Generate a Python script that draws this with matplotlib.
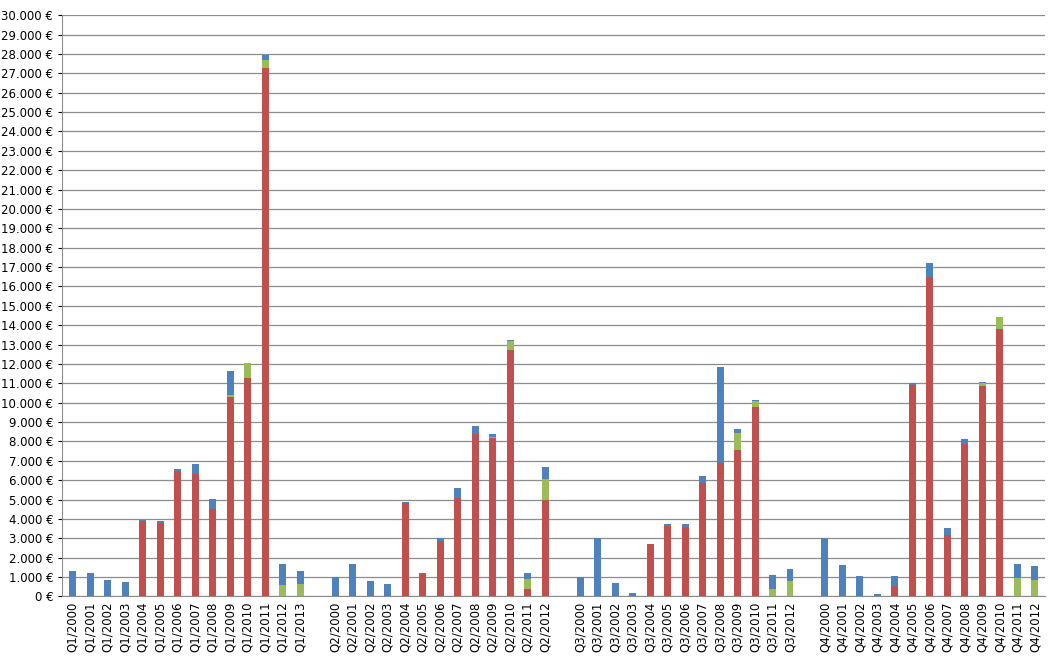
import matplotlib.pyplot as plt
import numpy as np
from matplotlib.ticker import FuncFormatter, MultipleLocator

# --------------------------------------------------
# data (values in EUR)
# --------------------------------------------------
years_q1 = list(range(2000, 2014))
years_q = list(range(2000, 2013))

red_q1 = [0, 0, 0, 0, 3900, 3800, 6500, 6300, 4500, 10300, 11300, 27300, 0, 0]
green_q1 = [0, 0, 0, 0, 0, 0, 0, 0, 0, 100, 750, 400, 600, 650]
blue_q1 = [1300, 1200, 850, 750, 50, 70, 70, 550, 550, 1250, 0, 250, 1050, 650]

red_q2 = [0, 0, 0, 0, 4800, 1150, 2850, 5100, 8400, 8200, 12700, 400, 5000]
green_q2 = [0, 0, 0, 0, 0, 0, 0, 0, 0, 50, 500, 500, 1050]
blue_q2 = [1000, 1650, 800, 650, 100, 50, 150, 480, 380, 120, 50, 300, 650]

red_q3 = [0, 0, 0, 0, 2700, 3650, 3600, 5850, 6900, 7550, 9800, 0, 0]
green_q3 = [0, 0, 0, 0, 0, 0, 0, 0, 0, 900, 300, 400, 800]
blue_q3 = [1000, 3000, 700, 180, -80, 70, 150, 350, 4950, 200, 50, 700, 600]

red_q4 = [0, 0, 0, 0, 550, 10900, 16500, 3150, 7850, 10850, 13800, 0, 0]
green_q4 = [0, 0, 0, 0, 0, 0, 0, 0, 0, 150, 600, 950, 850]
blue_q4 = [3000, 1600, 1050, 120, 500, 100, 700, 400, 300, 50, -80, 750, 700]

# --------------------------------------------------
# assemble categories with blank gaps between quarters
# --------------------------------------------------
labels, red, green, blue = [], [], [], []
groups = [
    ("Q1", years_q1, red_q1, green_q1, blue_q1),
    ("Q2", years_q, red_q2, green_q2, blue_q2),
    ("Q3", years_q, red_q3, green_q3, blue_q3),
    ("Q4", years_q, red_q4, green_q4, blue_q4),
]
for i, (q, yrs, r, g, b) in enumerate(groups):
    if i > 0:
        labels.append("")
        red.append(0); green.append(0); blue.append(0)
    labels += [f"{q}/{y}" for y in yrs]
    red += r; green += g; blue += b

red = np.array(red, float)
green = np.array(green, float)
blue = np.array(blue, float)
x = np.arange(len(labels))

# --------------------------------------------------
# plot
# --------------------------------------------------
fig = plt.figure(figsize=(10.57, 6.62), dpi=100)
ax = fig.add_axes([0.059, 0.099, 0.930, 0.878])

w = 0.4
ax.bar(x, red, w, color="#C0504D", zorder=3)
ax.bar(x, green, w, bottom=red, color="#9BBB59", zorder=3)
blue_bottom = np.where(blue < 0, 0, red + green)
ax.bar(x, blue, w, bottom=blue_bottom, color="#4F81BD", zorder=3)

ax.set_xlim(-0.6, len(labels) - 0.4)
ax.set_ylim(0, 30000)
ax.yaxis.set_major_locator(MultipleLocator(1000))
ax.yaxis.set_major_formatter(
    FuncFormatter(lambda v, p: f"{int(v):,}".replace(",", ".") + " €"))
ax.grid(axis="y", color="#8c8c8c", linewidth=0.9, zorder=0)
ax.set_xticks(x)
ax.set_xticklabels(labels, rotation=90, fontsize=8.5)
ax.tick_params(axis="y", labelsize=8.5, length=3)
ax.tick_params(axis="x", length=0)
for s in ["top", "right"]:
    ax.spines[s].set_visible(False)
ax.spines["left"].set_color("#8c8c8c")
ax.spines["bottom"].set_color("#8c8c8c")

fig.savefig("out.png", dpi=100)
